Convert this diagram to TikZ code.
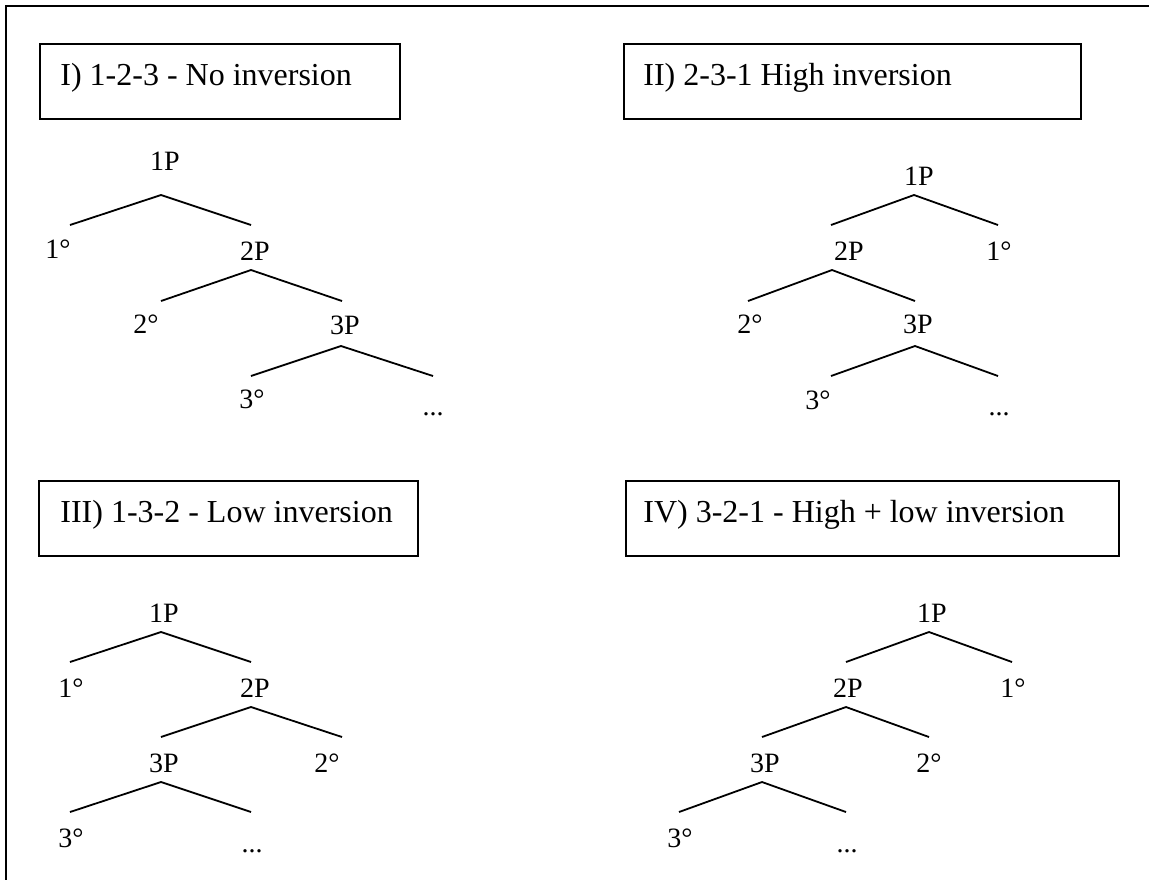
\documentclass[tikz,border=0pt]{standalone}
\usepackage{fontspec}
\setmainfont{Liberation Serif}
\usepackage{tikz}

\begin{document}
\begin{tikzpicture}[x=0.5pt, y=-0.5pt,
    branch/.style={line width=0.9pt},
    ttlbox/.style={line width=0.9pt},
    ttl/.style={anchor=base west, inner sep=0pt, font=\fontsize{16}{19}\selectfont},
    lbl/.style={anchor=base, inner sep=0pt, font=\fontsize{14}{17}\selectfont}]
    \useasboundingbox (0,0) rectangle (1149,880);

    % Outer frame (only top and left edges in view)
    \coordinate (frtl) at (6,6);
    \draw[line width=1pt] (1149,6) -- (frtl) -- (6,880);

    % Title boxes
    \draw[ttlbox] (40,44) rectangle (400,119);
    \node[ttl] (ttlI) at (60,85) {I) 1-2-3 - No inversion};
    \draw[ttlbox] (624,44) rectangle (1081,119);
    \node[ttl] (ttlII) at (643,85) {II) 2-3-1 High inversion};
    \draw[ttlbox] (39,481) rectangle (418,556);
    \node[ttl] (ttlIII) at (60,522) {III) 1-3-2 - Low inversion};
    \draw[ttlbox] (626,481) rectangle (1119,556);
    \node[ttl] (ttlIV) at (643,522) {IV) 3-2-1 - High + low inversion};

    % I) no inversion
    \node[lbl] (a1P) at (165,170) {1P};
    \node[lbl] (a1d) at (58,258) {1°};
    \node[lbl] (a2P) at (255,260) {2P};
    \node[lbl] (a2d) at (146,333) {2°};
    \node[lbl] (a3P) at (345,334) {3P};
    \node[lbl] (a3d) at (252,408) {3°};
    \node[lbl] (adots) at (433,415) {...};
    \coordinate (a1) at (161,195); \coordinate (a1l) at (70,225);  \coordinate (a1r) at (251,225);
    \coordinate (a2) at (251,270); \coordinate (a2l) at (161,301); \coordinate (a2r) at (342,301);
    \coordinate (a3) at (341,346); \coordinate (a3l) at (251,376); \coordinate (a3r) at (433,376);
    \draw[branch] (a1l) -- (a1) -- (a1r) (a2l) -- (a2) -- (a2r) (a3l) -- (a3) -- (a3r);

    % II) high inversion
    \node[lbl] (b1P) at (919,185) {1P};
    \node[lbl] (b2P) at (849,260) {2P};
    \node[lbl] (b1d) at (999,260) {1°};
    \node[lbl] (b2d) at (750,333) {2°};
    \node[lbl] (b3P) at (918,333) {3P};
    \node[lbl] (b3d) at (818,409) {3°};
    \node[lbl] (bdots) at (999,415) {...};
    \coordinate (b1) at (914,195); \coordinate (b1l) at (831,225); \coordinate (b1r) at (998,225);
    \coordinate (b2) at (832,270); \coordinate (b2l) at (748,301); \coordinate (b2r) at (915,301);
    \coordinate (b3) at (915,346); \coordinate (b3l) at (831,376); \coordinate (b3r) at (998,376);
    \draw[branch] (b1l) -- (b1) -- (b1r) (b2l) -- (b2) -- (b2r) (b3l) -- (b3) -- (b3r);

    % III) low inversion
    \node[lbl] (c1P) at (164,622) {1P};
    \node[lbl] (c1d) at (71,697) {1°};
    \node[lbl] (c2P) at (255,697) {2P};
    \node[lbl] (c3P) at (164,772) {3P};
    \node[lbl] (c2d) at (327,772) {2°};
    \node[lbl] (c3d) at (71,847) {3°};
    \node[lbl] (cdots) at (252,852) {...};
    \coordinate (c1) at (161,632); \coordinate (c1l) at (70,662);  \coordinate (c1r) at (251,662);
    \coordinate (c2) at (251,707); \coordinate (c2l) at (161,737); \coordinate (c2r) at (342,737);
    \coordinate (c3) at (161,782); \coordinate (c3l) at (70,812);  \coordinate (c3r) at (251,812);
    \draw[branch] (c1l) -- (c1) -- (c1r) (c2l) -- (c2) -- (c2r) (c3l) -- (c3) -- (c3r);

    % IV) high + low inversion
    \node[lbl] (d1P) at (932,622) {1P};
    \node[lbl] (d2P) at (848,697) {2P};
    \node[lbl] (d1d) at (1013,697) {1°};
    \node[lbl] (d3P) at (765,772) {3P};
    \node[lbl] (d2d) at (929,772) {2°};
    \node[lbl] (d3d) at (680,847) {3°};
    \node[lbl] (ddots) at (847,852) {...};
    \coordinate (d1) at (929,632); \coordinate (d1l) at (846,662); \coordinate (d1r) at (1012,662);
    \coordinate (d2) at (846,707); \coordinate (d2l) at (762,737); \coordinate (d2r) at (929,737);
    \coordinate (d3) at (762,782); \coordinate (d3l) at (679,812); \coordinate (d3r) at (846,812);
    \draw[branch] (d1l) -- (d1) -- (d1r) (d2l) -- (d2) -- (d2r) (d3l) -- (d3) -- (d3r);
\end{tikzpicture}
\end{document}
